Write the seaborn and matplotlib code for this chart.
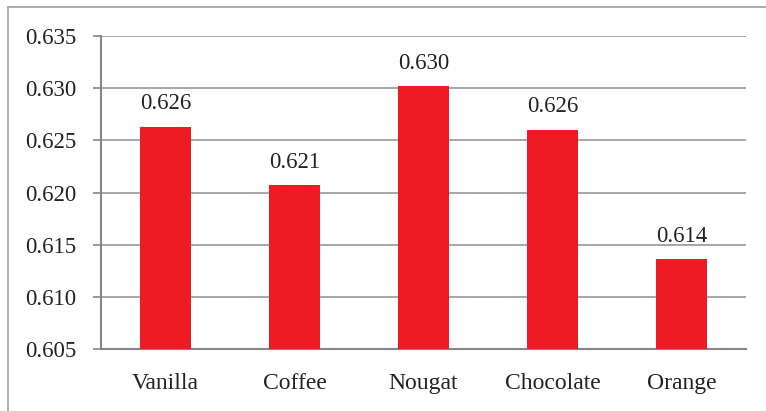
import matplotlib
matplotlib.use("Agg")
import matplotlib.pyplot as plt
import seaborn as sns
import pandas as pd
from matplotlib.lines import Line2D

categories = ["Vanilla", "Coffee", "Nougat", "Chocolate", "Orange"]
values = [0.6263, 0.6207, 0.6302, 0.6260, 0.6136]
yticks = [0.605, 0.610, 0.615, 0.620, 0.625, 0.630, 0.635]

sns.set_theme(style="white")
plt.rcParams['font.family'] = ['Liberation Serif', 'DejaVu Serif']

df = pd.DataFrame({"flavour": categories, "value": values})

fig = plt.figure(figsize=(7.66, 4.11), dpi=100)
ax = fig.add_axes([101/766, 1-349/411, (746-101)/766, (349-36)/411])

sns.barplot(data=df, x="flavour", y="value", color="#ED1C24", saturation=1,
            width=0.4, ax=ax, zorder=3, linewidth=0)

ax.set_ylim(0.605, 0.635)
ax.set_yticks(yticks)
ax.set_yticklabels([f"{t:.3f}" for t in yticks], fontsize=16.5, color="#222222")
ax.set_xlim(-0.5, len(categories) - 0.5)
ax.set_xlabel("")
ax.set_ylabel("")
ax.tick_params(axis="x", which="major", length=0, pad=17, labelsize=17, labelcolor="#222222")
ax.set_xticks([i - 0.5 for i in range(len(categories) + 1)], minor=True)
ax.tick_params(axis="x", which="minor", length=6, width=1.2, color="#868686", direction="out")
ax.tick_params(axis="y", length=6, width=1.2, color="#868686", direction="out", pad=12, left=True)

ax.grid(axis="y", color="#A6A6A6", linewidth=1.4, zorder=0)
ax.set_axisbelow(True)
for s in ["top", "right"]:
    ax.spines[s].set_visible(False)
for s in ["left", "bottom"]:
    ax.spines[s].set_color("#868686")
    ax.spines[s].set_linewidth(1.5)

for c in ax.containers:
    ax.bar_label(c, fmt="%.3f", padding=9, fontsize=16.5, color="#222222")

# figure frame (top and left)
fig.add_artist(Line2D([8/766, 1], [1-7/411, 1-7/411], transform=fig.transFigure,
                      color="#A0A0A0", linewidth=1.2))
fig.add_artist(Line2D([8/766, 8/766], [0, 1-7/411], transform=fig.transFigure,
                      color="#A0A0A0", linewidth=1.2))

fig.savefig("out.png", dpi=100)
